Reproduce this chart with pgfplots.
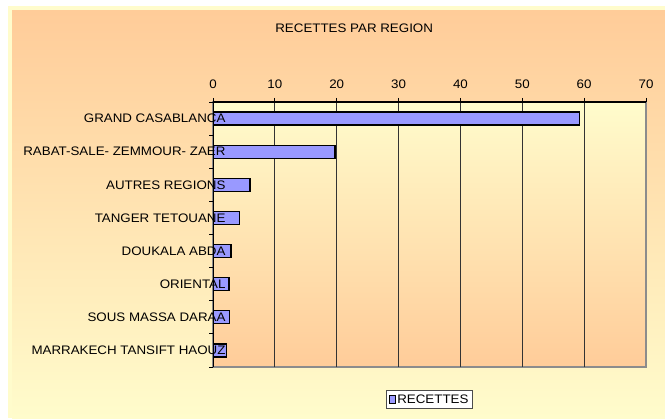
\documentclass[border=0pt]{standalone}
\usepackage{pgfplots}
\pgfplotsset{compat=1.18}
\usepackage{fontspec}
\setmainfont[FakeStretch=1.08]{Liberation Sans}
\definecolor{peach}{RGB}{255,204,153}
\definecolor{lightyel}{RGB}{255,252,204}
\definecolor{barfill}{RGB}{153,153,255}
\pgfdeclarelayer{outerbg}
\pgfplotsset{
  layers/labelsontop/.define layer set={outerbg,axis background,axis grid,axis ticks,axis lines,pre main,main,axis tick labels,axis descriptions,axis foreground}{/pgfplots/layers/standard},
}
\begin{document}
\begin{tikzpicture}[x=1bp,y=1bp]
\pgfplotsset{set layers=labelsontop}
\begin{pgfonlayer}{outerbg}
\fill[white] (0,0) rectangle (665,418);
\fill[lightyel] (8,0) rectangle (665,412);
\shade[top color=peach, bottom color=lightyel] (12,0) rectangle (665,407);
\end{pgfonlayer}
\begin{axis}[
  set layers=labelsontop,
  at={(213bp,51bp)}, anchor=south west,
  scale only axis, width=433bp, height=265bp,
  xbar, bar width=13bp,
  xmin=0, xmax=70, ymin=-0.5, ymax=7.5,
  axis x line*=top, axis y line*=left,
  axis line style={black, line width=1bp},
  axis background/.style={top color=lightyel, bottom color=peach, draw=black!45, line width=1.2bp},
  tick align=outside,
  major tick length=4bp,
  tick style={black, line width=0.8bp},
  xtick={0,10,...,60},
  extra x ticks={70},
  extra x tick style={grid=none},
  xmajorgrids,
  major grid style={black!80, line width=0.9bp},
  ytick={-0.5,0.5,...,7.5},
  yticklabels={},
  extra y ticks={0,1,2,3,4,5,6,7},
  extra y tick labels={MARRAKECH TANSIFT HAOUZ, SOUS MASSA DARAA, ORIENTAL, DOUKALA ABDA, TANGER TETOUANE, AUTRES REGIONS, RABAT-SALE- ZEMMOUR- ZAER, GRAND CASABLANCA},
  extra y tick style={tick style={draw=none}, yticklabel style={anchor=east, xshift=20bp}},
  ticklabel style={font=\fontsize{12.4}{15}\selectfont},
  /pgf/number format/assume math mode=true,
  xticklabel style={yshift=6bp},
  title={RECETTES PAR REGION},
  title style={at={(axis description cs:0.326,1.255)}, anchor=center, font=\fontsize{12.4}{15}\selectfont},
  legend style={at={(0.5,-0.123)}, anchor=center, draw=black!70, fill=white, font=\fontsize{12.4}{15}\selectfont, inner xsep=2bp, inner ysep=2bp},
  legend image code/.code={\draw[fill=barfill, draw=black, line width=0.8bp] (0bp,-4bp) rectangle (6bp,4bp);},
]
\addplot[fill=barfill, draw=black, line width=1.3bp] coordinates {
  (2.2,0) (2.7,1) (2.6,2) (2.9,3) (4.3,4) (6.0,5) (19.7,6) (59.3,7)
};
\addlegendentry{RECETTES}
\end{axis}
\end{tikzpicture}
\end{document}
